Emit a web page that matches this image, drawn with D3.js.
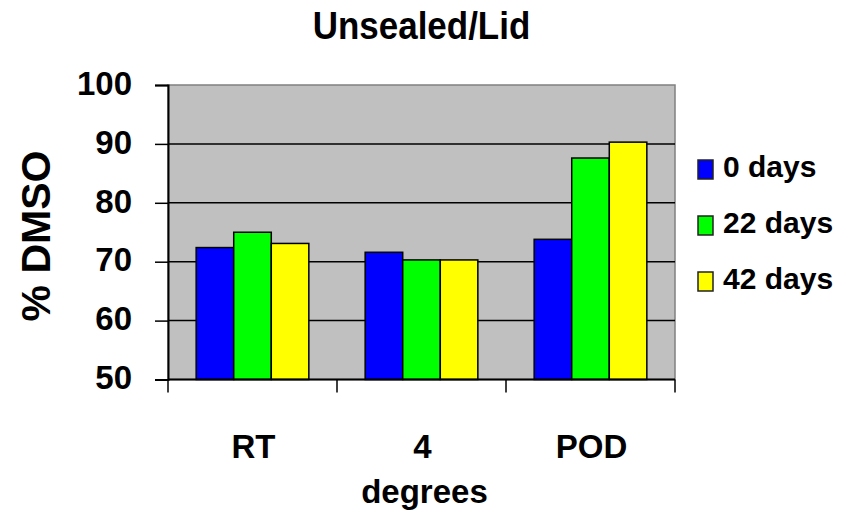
<!DOCTYPE html>
<html>
<head>
<meta charset="utf-8">
<script src="https://cdn.jsdelivr.net/npm/d3@7/dist/d3.min.js"></script>
<style>
  html, body { margin: 0; padding: 0; background: #fff; }
  svg { display: block; }
  text { font-family: "Liberation Sans", Arial, sans-serif; font-weight: bold; fill: #000; }
</style>
</head>
<body>
<svg id="chart" width="845" height="522"></svg>
<script>
// Data
const categories = ["RT", "4 degrees", "POD"];
const seriesNames = ["0 days", "22 days", "42 days"];
const seriesColors = ["#0000ff", "#00ff00", "#ffff00"];
const values0 = [72.4, 71.6, 73.8];
const values22 = [75.0, 70.3, 87.6];
const values42 = [73.1, 70.3, 90.3];
const yTicks = [50, 60, 70, 80, 90, 100];

const seriesValues = [values0, values22, values42];

const svg = d3.select("#chart");
const plot = { left: 168, right: 675, top: 85, bottom: 379.5 };

const x0 = d3.scaleBand().domain(categories).range([plot.left, plot.right]).paddingInner(0).paddingOuter(0);
const x1 = d3.scaleBand().domain(seriesNames).range([0, x0.bandwidth()]).paddingInner(0).paddingOuter(0.75);
const y = d3.scaleLinear().domain([50, 100]).range([plot.bottom, plot.top]);

// Plot area
svg.append("rect")
  .attr("x", plot.left).attr("y", plot.top)
  .attr("width", plot.right - plot.left).attr("height", plot.bottom - plot.top)
  .attr("fill", "#c0c0c0").attr("stroke", "#808080").attr("stroke-width", 1.5);

// Gridlines
svg.append("g").selectAll("line")
  .data(yTicks.filter(t => t > 50 && t < 100))
  .join("line")
  .attr("x1", plot.left).attr("x2", plot.right)
  .attr("y1", d => y(d)).attr("y2", d => y(d))
  .attr("stroke", "#000").attr("stroke-width", 1.5);

// Bars
const groups = svg.append("g").selectAll("g")
  .data(categories)
  .join("g")
  .attr("transform", d => `translate(${x0(d)},0)`);

groups.selectAll("rect")
  .data((c, i) => seriesNames.map((s, k) => ({ s, k, v: seriesValues[k][i] })))
  .join("rect")
  .attr("x", d => x1(d.s))
  .attr("width", x1.bandwidth())
  .attr("y", d => y(d.v))
  .attr("height", d => y(50) - y(d.v))
  .attr("fill", d => seriesColors[d.k])
  .attr("stroke", "#000").attr("stroke-width", 1.5);

// Y axis
const yAxis = svg.append("g")
  .attr("transform", `translate(${plot.left},0)`)
  .call(d3.axisLeft(y).tickValues(yTicks).tickSize(13).tickPadding(23).tickFormat(d3.format("d")));
yAxis.select(".domain").attr("stroke", "#000").attr("stroke-width", 2);
yAxis.selectAll(".tick line").attr("stroke", "#000").attr("stroke-width", 1.5);
yAxis.selectAll(".tick text")
  .attr("font-family", "Liberation Sans, Arial, sans-serif")
  .attr("font-weight", "bold").attr("font-size", 33).attr("dy", "0.28em");

// X axis line and boundary ticks
svg.append("line")
  .attr("x1", plot.left).attr("x2", plot.right)
  .attr("y1", plot.bottom).attr("y2", plot.bottom)
  .attr("stroke", "#000").attr("stroke-width", 2);
const boundaries = categories.map(c => x0(c)).concat([plot.right]);
svg.append("g").selectAll("line")
  .data(boundaries)
  .join("line")
  .attr("x1", d => d).attr("x2", d => d)
  .attr("y1", plot.bottom).attr("y2", plot.bottom + 13)
  .attr("stroke", "#000").attr("stroke-width", 1.5);

// Category labels
svg.append("g").selectAll("text")
  .data(categories)
  .join("text")
  .attr("text-anchor", "middle")
  .attr("font-size", 33)
  .each(function (d) {
    const t = d3.select(this);
    const cx = x0(d) + x0.bandwidth() / 2;
    d.split(" ").forEach((part, i) => {
      t.append("tspan").attr("x", cx + (i ? 3 : 1)).attr("y", 458 + i * 44.5).text(part);
    });
  });

// Title
svg.append("text")
  .attr("transform", "translate(421.5,38.5) scale(0.92,1)")
  .attr("text-anchor", "middle")
  .attr("font-size", 38)
  .text("Unsealed/Lid");

// Y axis title
svg.append("text")
  .attr("transform", "translate(50,236) rotate(-90)")
  .attr("text-anchor", "middle")
  .attr("font-size", 41)
  .text("% DMSO");

// Legend
const legend = svg.append("g").selectAll("g")
  .data(seriesNames)
  .join("g")
  .attr("transform", (d, i) => `translate(698,${160 + i * 56})`);
legend.append("rect")
  .attr("width", 15).attr("height", 19)
  .attr("fill", (d, i) => seriesColors[i])
  .attr("stroke", "#222").attr("stroke-width", 1.5);
legend.append("text")
  .attr("x", 25).attr("y", 17)
  .attr("font-size", 30)
  .text(d => d);
</script>
</body>
</html>
